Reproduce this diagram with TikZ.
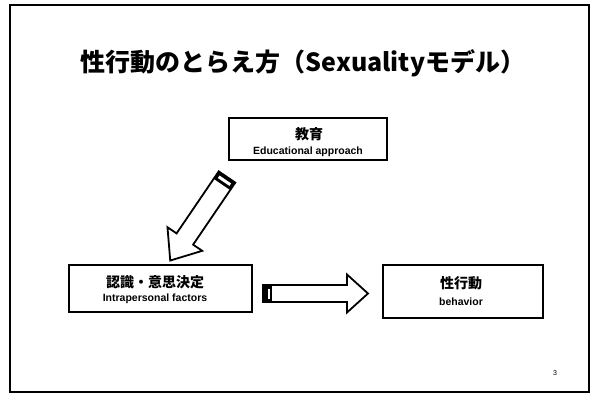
\documentclass[tikz,border=0pt]{standalone}
\usepackage{fontspec}
\setmainfont{Liberation Sans}
\newfontfamily\jp{Noto Sans CJK JP}
\tikzset{
  box/.style={draw, line width=1.6pt, fill=white, inner sep=0pt},
  jt/.style={font=\jp\bfseries\fontsize{14}{14}\selectfont, inner sep=0pt},
  et/.style={font=\bfseries\fontsize{10.5}{10.5}\selectfont, inner sep=0pt},
  blockarrow/.style={draw, line width=1.8pt, fill=white, line join=miter},
  capband/.style={fill=black},
}
\begin{document}
\begin{tikzpicture}[x=1pt,y=1pt]
\useasboundingbox (0,0) rectangle (594,-396);
\draw[line width=2.6pt] (10,-5) rectangle (589,-392);
\node[inner sep=0pt, font=\jp\bfseries\fontsize{25}{25}\selectfont] (title) at (303,-63) {性行動のとらえ方（Sexualityモデル）};
% boxes
\node[box, minimum width=158, minimum height=42] (edu) at (308,-139) {};
\node[jt] (edut) at (309,-134) {教育};
\node[et] (edus) at (308,-152) {Educational approach};
\node[box, minimum width=183, minimum height=47] (intra) at (160.5,-288.5) {};
\node[jt] (intrat) at (155,-282) {認識・意思決定};
\node[et] (intras) at (155,-299) {Intrapersonal factors};
\node[box, minimum width=160, minimum height=53] (beh) at (463,-291.5) {};
\node[jt] (beht) at (461,-283) {性行動};
\node[et] (behs) at (461,-302) {behavior};
% diagonal block arrow
\begin{scope}[shift={(227,-177)}, rotate=235.8]
  \draw[blockarrow] (0,-10) -- (75,-10) -- (75,-21) -- (101,0) -- (75,21) -- (75,10) -- (0,10) -- cycle;
  \fill[capband] (0,-10) rectangle (9,10);
  \fill[white] (3,-7) rectangle (6,7);
\end{scope}
% horizontal block arrow
\begin{scope}[shift={(263,-293.5)}]
  \draw[blockarrow] (0,-8.5) -- (84,-8.5) -- (84,-19) -- (105,0) -- (84,19) -- (84,8.5) -- (0,8.5) -- cycle;
  \fill[capband] (0,-8.5) rectangle (9,8.5);
  \fill[white] (5,-5) rectangle (7,5);
\end{scope}
\node[inner sep=0pt, font=\fontsize{7}{7}\selectfont] (pg) at (555,-373) {3};
\end{tikzpicture}
\end{document}
